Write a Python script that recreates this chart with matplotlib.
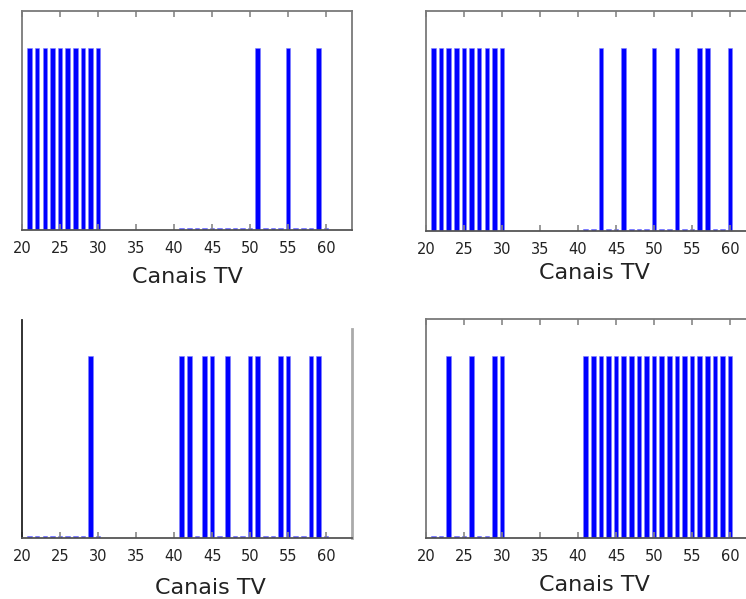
import matplotlib
matplotlib.use('Agg')
import matplotlib.pyplot as plt


# TV channels considered (UHF 21-30 and 41-60)
channels = [21, 22, 23, 24, 25, 26, 27, 28, 29, 30,
            41, 42, 43, 44, 45, 46, 47, 48, 49, 50,
            51, 52, 53, 54, 55, 56, 57, 58, 59, 60]

# occupation of each channel, one list per panel (1 = occupied, ~0 = free)
values_a = [1, 1, 1, 1, 1, 1, 1, 1, 1, 1,
            0.012, 0.012, 0.012, 0.012, 0.012, 0.012, 0.012, 0.012, 0.012, 0.012,
            1, 0.012, 0.012, 0.012, 1, 0.012, 0.012, 0.012, 1, 0.012]
values_b = [1, 1, 1, 1, 1, 1, 1, 1, 1, 1,
            0.012, 0.012, 1, 0.012, 0.012, 1, 0.012, 0.012, 0.012, 1,
            0.012, 0.012, 1, 0.012, 0.012, 1, 1, 0.012, 0.012, 1]
values_c = [0.012, 0.012, 0.012, 0.012, 0.012, 0.012, 0.012, 0.012, 1, 0.012,
            1, 1, 0.012, 1, 1, 0.012, 1, 0.012, 0.012, 1,
            1, 0.012, 0.012, 1, 1, 0.012, 0.012, 1, 1, 0.012]
values_d = [0.012, 0.012, 1, 0.012, 0.012, 1, 0.012, 0.012, 1, 1,
            1, 1, 1, 1, 1, 1, 1, 1, 1, 1,
            1, 1, 1, 1, 1, 1, 1, 1, 1, 1]

xticks = [20, 25, 30, 35, 40, 45, 50, 55, 60]
xlabel = 'Canais TV'

fig = plt.figure(figsize=(7.46, 5.99), dpi=100)

# axes positions in figure fraction (right column is cut off by the figure edge)
panels = [
    (values_a, [0.0295, 0.616, 0.4424, 0.3656], (0.5, -0.215)),
    (values_b, [0.571, 0.6144, 0.4424, 0.3673], (0.511, -0.19)),
    (values_c, [0.0295, 0.1018, 0.4424, 0.364], (0.57, -0.229)),
    (values_d, [0.571, 0.1018, 0.4424, 0.3656], (0.511, -0.215)),
]

for i, (vals, pos, label_xy) in enumerate(panels):
    ax = fig.add_axes(pos)
    ax.bar(channels, vals, width=0.6, color='#0000ff', edgecolor='#8080ff',
           linewidth=0.4)
    ax.set_xlim(20, 63.4)
    ax.set_ylim(0, 1.2)
    ax.set_xticks(xticks)
    ax.set_yticks([])
    ax.tick_params(axis='x', direction='in', length=4, width=1.2,
                   color='#888888', labelsize=10.5, labelcolor='#222222',
                   pad=8, top=(i != 2))
    for s in ax.spines.values():
        s.set_color('#7a7a7a')
        s.set_linewidth(1.3)
    ax.spines['bottom'].set_color('#555555')

    # the lower-left panel has no frame on top
    if i == 2:
        ax.spines['top'].set_visible(False)
        ax.spines['left'].set_color('#222222')
        ax.spines['right'].set_color('#aaaaaa')
        ax.spines['right'].set_linewidth(2)
        ax.spines['right'].set_bounds(0, 1.15)

    ax.set_xlabel(xlabel, fontsize=16, color='#222222')
    ax.xaxis.label.set_va('center')
    ax.xaxis.set_label_coords(*label_xy)

fig.savefig('out.png', dpi=100)
